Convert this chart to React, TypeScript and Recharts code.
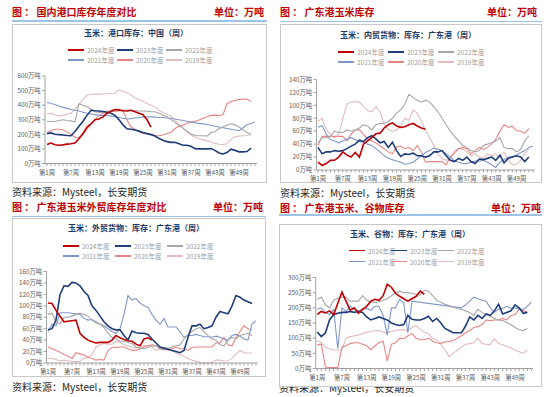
import { LineChart, Line, XAxis, YAxis } from "recharts"

const WEEKS = Array.from({ length: 53 }, (_, i) => `第${i + 1}周`)
const YEARS = ["2024年度", "2023年度", "2022年度", "2021年度", "2020年度", "2019年度"]
const COLORS = ["#c00000", "#1f3d7a", "#a6a6a6", "#8098c9", "#e98585", "#e2bcbc"]
const WIDTHS = [1.6, 1.6, 1.1, 1.1, 1.1, 1.1]

// 港口库存：中国
const port2024 = [130,140,128,125,128,133,135,140,170,205,250,272,300,305,320,345,358,370,368,362,360,365,355,345,335,300,250]
const port2023 = [205,210,200,198,195,192,190,220,255,290,330,365,362,360,356,352,345,330,300,265,238,235,230,222,212,205,198,188,172,160,150,145,145,135,125,125,118,102,100,100,100,102,90,72,65,75,98,90,80,80,82,105]
const port2022 = [290,288,290,295,300,295,292,285,410,400,390,372,355,350,352,358,360,362,365,365,365,364,362,360,360,358,356,355,345,332,320,302,282,262,242,222,202,192,190,190,188,212,218,238,250,262,272,265,250,232,212,200]
const port2021 = [420,412,405,395,385,378,370,365,360,352,345,340,335,330,330,330,325,320,315,310,305,308,312,315,318,320,320,318,315,315,312,310,305,300,295,290,285,280,275,272,268,262,255,250,245,240,235,230,225,245,265,275,285]
const port2020 = [215,225,235,235,232,215,200,178,180,200,235,270,300,330,345,350,355,358,360,360,300,250,235,220,205,205,200,192,190,195,205,215,240,255,262,278,282,290,298,310,320,330,332,328,335,410,425,432,438,442,440,425]
const port2019 = [340,345,332,328,330,338,345,370,405,440,468,475,476,476,477,478,480,482,505,495,485,470,450,438,425,412,400,385,365,350,338,325,295,270,245,215,195,180,170,162,155,148,138,132,130,135,165,185,188,190,192,195]

// 内贸货物：广东港
const dom2024 = [12,7,10,15,15,20,28,23,20,27,20,40,45,50,56,57,65,70,73,68,66,67,70,72,68,65,63]
const dom2023 = [35,25,28,28,30,29,30,33,37,40,46,44,50,53,48,42,44,35,43,30,21,25,24,26,22,22,20,22,28,28,30,22,15,13,18,15,20,13,10,17,16,18,20,15,23,11,18,20,22,20,13,20]
const dom2022 = [42,50,50,52,60,58,58,62,60,62,65,70,68,62,70,72,72,75,80,88,93,102,117,112,108,105,108,105,98,90,80,70,60,52,45,38,35,30,28,30,38,40,42,45,50,35,33,33,28,32,45,53]
const dom2021 = [66,69,55,47,45,42,45,48,50,47,44,43,40,38,33,28,22,18,16,14,12,9,10,12,17,22,27,30,34,32,30,25,20,14,12,10,10,12,14,14,15,12,8,4,12,16,20,20,23,27,30,35,37]
const dom2020 = [38,52,52,52,52,52,52,45,55,62,62,55,48,45,42,37,33,28,25,36,37,33,35,30,38,28,12,13,13,13,13,8,20,26,33,35,33,25,30,35,32,35,40,48,60,70,66,68,61,60,57,64]
const dom2019 = [75,80,62,55,50,55,80,102,105,106,105,98,92,90,98,90,70,63,60,62,68,80,77,93,88,75,62,50,38,25,18,15,18,30,33,32,28,22,25,20,18,25,22,25,20,28,15,8,9,15,25,33]

// 外贸货物：广东港
const for2024 = [105,104,92,82,72,73,74,75,52,45,40,37,35,36,36,36,40,48,44,41,39,38,33,30,42,44,40]
const for2023 = [58,60,75,120,135,134,141,140,135,125,118,100,92,82,72,65,60,58,58,48,40,56,53,52,52,50,42,35,28,26,24,22,20,18,22,45,65,65,68,60,62,65,80,90,88,86,100,118,115,110,107,104]
const for2022 = [85,87,72,68,80,80,82,85,87,85,82,75,70,68,62,52,45,42,38,38,36,34,28,26,25,27,30,30,25,23,25,28,30,32,42,50,55,60,62,55,48,42,40,32,30,40,45,42,48,50,52,48]
const for2021 = [55,68,65,88,88,88,87,86,85,78,75,76,72,68,65,60,55,52,60,85,118,110,113,105,100,97,85,75,68,78,63,63,63,55,45,48,48,50,48,46,46,45,47,45,42,40,48,50,47,42,40,68,74]
const for2020 = [28,25,22,19,15,12,8,18,16,14,10,8,5,6,5,22,27,27,28,28,25,22,22,25,28,30,32,30,25,26,22,25,28,25,25,22,27,28,28,28,28,28,35,35,45,32,30,45,55,65,60,58]
const for2019 = [8,8,6,3,5,4,3,2,3,8,10,15,28,32,34,33,33,38,36,32,30,28,26,28,31,30,28,22,25,27,26,22,18,15,12,8,5,3,1,0,0,1,5,5,3,4,8,15,22,18,17,18]

// 玉米、谷物：广东港
const grain2024 = [178,188,183,190,178,215,252,222,192,200,182,195,205,222,228,225,240,278,268,248,238,230,222,230,238,255,244]
const grain2023 = [120,105,118,160,178,182,185,185,188,185,188,185,170,160,165,170,165,160,150,145,142,145,175,162,160,160,165,172,155,165,150,132,125,118,118,118,140,170,160,175,165,180,175,190,212,180,185,190,210,200,182,185]
const grain2022 = [228,235,210,200,225,232,235,235,222,222,222,240,225,220,218,220,225,230,240,248,255,250,250,248,245,242,258,255,240,225,218,212,208,202,198,195,190,185,175,195,185,178,172,165,160,158,152,145,135,128,125,132]
const grain2021 = [195,200,185,178,195,65,200,188,205,195,190,195,198,192,205,205,175,110,200,200,228,215,118,222,null,null,null,null,null,null,null,null,null,null,null,200,210,222,235,230,225,222,200,185,195,198,205,198,200,195,195,205,220]
const grain2020 = [78,80,5,3,3,3,70,75,82,85,85,80,75,62,75,85,90,25,80,85,100,98,108,115,100,95,95,100,90,85,82,88,88,92,100,108,118,125,135,138,145,160,158,160,160,165,160,175,178,195,190,185]
const grain2019 = [92,85,70,65,62,60,62,100,105,108,110,115,120,122,125,125,120,118,122,125,128,128,125,135,142,130,120,115,100,95,80,62,40,50,60,70,80,82,85,100,82,80,78,98,82,78,72,68,60,55,50,62]

const toRows = (series: (number | null)[][]) =>
  WEEKS.map((w, i) => {
    const row: any = { week: w }
    series.forEach((s, k) => { row["y" + k] = i < s.length ? s[i] : null })
    return row
  })

const WeekTick = (props: any) => {
  const { x, y, payload, index } = props
  return (
    <g>
      <line x1={x} x2={x} y1={y} y2={y + 2.5} stroke="#8c8c8c" strokeWidth={0.8} />
      {index % 6 === 0 && (
        <text x={x} y={y + 11} textAnchor="middle" fontSize={6.3} fill="#595959">{payload.value}</text>
      )}
    </g>
  )
}

type Geo = {
  titleX: number; titleY: number; unitRight: number; lineY: number
  box: [number, number, number, number]
  chartTitle: [number, number]; rows: [number, number]; cols: number[]
  plot: { top: number; bottom: number; left: number; right: number; pad: number }
  source: [number, number]
}

function Panel({ x, y, title, chartTitle, series, ticks, geo }: {
  x: number; y: number; title: string; chartTitle: string; series: (number | null)[][]; ticks: number[]; geo: Geo
}) {
  const data = toRows(series)
  const [bl, bt, br, bb] = geo.box
  const yW = 40
  return (
    <div style={{ position: "absolute", left: x, top: y, width: 275, height: 202 }}>
      <div style={{ position: "absolute", left: geo.source[0], top: geo.source[1] - 7, fontSize: 10, lineHeight: "14px", color: "#262626", whiteSpace: "nowrap" }}>资料来源：Mysteel，长安期货</div>
      <div style={{ position: "absolute", left: geo.titleX, top: geo.titleY - 7, fontSize: 10, lineHeight: "14px", fontWeight: 700, color: "#c00000", whiteSpace: "nowrap" }}>{title}</div>
      <div style={{ position: "absolute", right: 275 - geo.unitRight, top: geo.titleY - 7, fontSize: 10, lineHeight: "14px", fontWeight: 700, color: "#c00000", whiteSpace: "nowrap" }}>单位：万吨</div>
      <div style={{ position: "absolute", left: bl, top: geo.lineY, width: br - bl, height: 1.5, background: "#9dc3e6" }} />
      <div style={{ position: "absolute", left: bl, top: bt, width: br - bl, height: bb - bt, border: "1px solid #c8c8c8", boxSizing: "border-box", background: "#fff" }} />
      <div style={{ position: "absolute", left: geo.chartTitle[0] - 100, width: 200, top: geo.chartTitle[1] - 6, textAlign: "center", fontSize: 8, lineHeight: "12px", fontWeight: 700, color: "#1f3864", whiteSpace: "nowrap" }}>{chartTitle}</div>
      {YEARS.map((name, k) => (
        <div key={name} style={{ position: "absolute", left: geo.cols[k % 3], top: geo.rows[Math.floor(k / 3)] - 5, height: 10, display: "flex", alignItems: "center", whiteSpace: "nowrap" }}>
          <div style={{ width: 16, height: k < 2 ? 1.6 : 1.2, background: COLORS[k], marginRight: 3 }} />
          <span style={{ fontSize: 6.5, color: "#a0a0a0" }}>{name}</span>
        </div>
      ))}
      <div style={{ position: "absolute", left: 0, top: 0 }}>
        <LineChart
          width={275}
          height={200}
          data={data}
          margin={{ top: geo.plot.top, right: 275 - geo.plot.right, left: geo.plot.left - yW, bottom: 0 }}
        >
          <XAxis
            dataKey="week"
            interval={0}
            height={200 - geo.plot.bottom}
            tick={<WeekTick />}
            tickLine={false}
            tickSize={0}
            tickMargin={0}
            padding={{ left: geo.plot.pad, right: geo.plot.pad }}
            axisLine={{ stroke: "#8c8c8c", strokeWidth: 0.8 }}
          />
          <YAxis
            width={yW}
            domain={[0, ticks[ticks.length - 1]]}
            ticks={ticks}
            interval={0}
            tickSize={3}
            tickMargin={1.5}
            tickLine={{ stroke: "#8c8c8c", strokeWidth: 0.8 }}
            axisLine={{ stroke: "#8c8c8c", strokeWidth: 0.8 }}
            tick={{ fontSize: 6.3, fill: "#595959" }}
            tickFormatter={(v: number) => `${v}万吨`}
          />
          {[5, 4, 3, 2, 1, 0].map(k => (
            <Line
              key={k}
              type="linear"
              dataKey={"y" + k}
              stroke={COLORS[k]}
              strokeWidth={WIDTHS[k]}
              dot={false}
              connectNulls
              isAnimationActive={false}
            />
          ))}
        </LineChart>
      </div>
    </div>
  )
}

export default function App() {
  return (
    <div style={{ position: "fixed", left: 0, top: 0, width: 550, height: 397, background: "#fff", overflow: "hidden", fontFamily: '"Noto Sans CJK SC", "Noto Sans", sans-serif' }}>
      <Panel
        x={0} y={0}
        title="图 ： 国内港口库存年度对比"
        chartTitle="玉米：港口库存：中国（周）"
        series={[port2024, port2023, port2022, port2021, port2020, port2019]}
        ticks={[0, 100, 200, 300, 400, 500, 600]}
        geo={{ titleX: 12, titleY: 12, unitRight: 264, lineY: 20, box: [12, 24, 267, 183], chartTitle: [136, 33], rows: [50, 60], cols: [68, 117, 166], plot: { top: 76, bottom: 163.5, left: 45, right: 257, pad: 2 }, source: [12, 192] }}
      />
      <Panel
        x={275} y={0}
        title="图 ： 广东港玉米库存"
        chartTitle="玉米：内贸货物：库存：广东港（周）"
        series={[dom2024, dom2023, dom2022, dom2021, dom2020, dom2019]}
        ticks={[0, 20, 40, 60, 80, 100, 120, 140]}
        geo={{ titleX: 5, titleY: 12, unitRight: 262, lineY: 20.5, box: [5, 24, 267, 183], chartTitle: [133, 35], rows: [52, 62], cols: [63, 113, 163], plot: { top: 79.5, bottom: 170, left: 41.5, right: 259.5, pad: 1.5 }, source: [5, 193] }}
      />
      <Panel
        x={0} y={195}
        title="图 ： 广东港玉米外贸库存年度对比"
        chartTitle="玉米：外贸货物：库存：广东港（周）"
        series={[for2024, for2023, for2022, for2021, for2020, for2019]}
        ticks={[0, 20, 40, 60, 80, 100, 120, 140, 160]}
        geo={{ titleX: 12, titleY: 12, unitRight: 263, lineY: 20.5, box: [12, 23, 266, 182], chartTitle: [136, 33], rows: [51, 61], cols: [63, 115, 167], plot: { top: 76.5, bottom: 168, left: 46.5, right: 257.5, pad: 1.5 }, source: [12, 192] }}
      />
      <Panel
        x={275} y={195}
        title="图 ： 广东港玉米、谷物库存"
        chartTitle="玉米、谷物：库存：广东港（周）"
        series={[grain2024, grain2023, grain2022, grain2021, grain2020, grain2019]}
        ticks={[0, 50, 100, 150, 200, 250, 300]}
        geo={{ titleX: 5, titleY: 13, unitRight: 266, lineY: 19.3, box: [4, 29, 267, 191.5], chartTitle: [135, 39], rows: [55.5, 66.5], cols: [74, 116, 163], plot: { top: 82.5, bottom: 173.5, left: 40.7, right: 258, pad: 1.5 }, source: [4, 193] }}
      />
    </div>
  )
}
